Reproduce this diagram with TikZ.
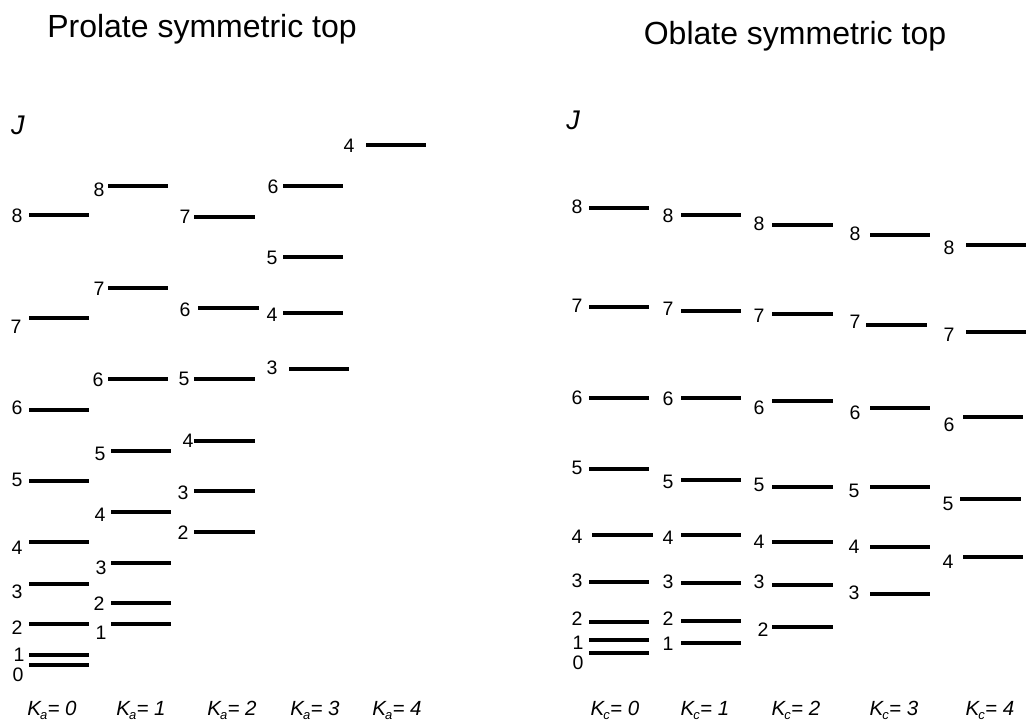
\documentclass[tikz,border=0pt]{standalone}
\usepackage{fontspec}
\setmainfont{Liberation Sans}
\begin{document}
\begin{tikzpicture}[x=1pt,y=-1pt,
  level/.style={line width=3.3pt},
  jlab/.style={font=\fontsize{19.5}{22}\selectfont, inner sep=0pt},
  title/.style={font=\fontsize{32}{36}\selectfont, anchor=base, inner sep=0pt},
  klab/.style={font=\fontsize{20.5}{22}\selectfont\itshape, anchor=base, inner sep=0pt},
  axis/.style={font=\fontsize{27}{30}\selectfont\itshape, anchor=base, inner sep=0pt}]
\useasboundingbox (0,0) rectangle (1026,722);
% #1 name, #2 x1, #3 x2, #4 y, #5 labx, #6 laby, #7 text
\newcommand{\enlevel}[7]{%
  \draw[level] (#2,#4) -- (#3,#4);
  \node[jlab] (#1) at (#5,#6) {#7};}
\newcommand{\kname}[2]{K\kern-1pt\raisebox{-4pt}{\fontsize{13}{13}\selectfont #1}\kern0.3pt= #2}

\node[title] (tp) at (202,38) {Prolate symmetric top};
\node[title] (to) at (795,45) {Oblate symmetric top};
\node[axis] (jp) at (18,135) {J};
\node[axis] (jo) at (573,130) {J};

% Prolate Ka=0
\enlevel{pa8}{29}{89}{215}{17}{216}{8}
\enlevel{pa7}{29}{89}{318}{16}{327}{7}
\enlevel{pa6}{29}{89}{410}{17}{408}{6}
\enlevel{pa5}{29}{89}{481}{17}{480}{5}
\enlevel{pa4}{29}{89}{542}{17}{548}{4}
\enlevel{pa3}{29}{89}{584}{17}{592}{3}
\enlevel{pa2}{29}{89}{624}{17}{628}{2}
\enlevel{pa1}{29}{89}{655}{19}{655}{1}
\enlevel{pa0}{29}{89}{665}{18}{675}{0}
% Ka=1
\enlevel{pb8}{108}{168}{186}{99}{190}{8}
\enlevel{pb7}{108}{168}{288}{99}{289}{7}
\enlevel{pb6}{108}{168}{379}{98}{380}{6}
\enlevel{pb5}{111}{171}{451}{100}{454}{5}
\enlevel{pb4}{111}{171}{512}{100}{515}{4}
\enlevel{pb3}{111}{171}{563}{101}{568}{3}
\enlevel{pb2}{111}{171}{603}{99}{604}{2}
\enlevel{pb1}{111}{171}{624}{101}{633}{1}
% Ka=2
\enlevel{pc7}{194}{255}{217}{185}{217}{7}
\enlevel{pc6}{198}{259}{308}{185}{310}{6}
\enlevel{pc5}{194}{255}{379}{184}{379}{5}
\enlevel{pc4}{194}{255}{441}{188}{441}{4}
\enlevel{pc3}{194}{255}{491}{183}{493}{3}
\enlevel{pc2}{194}{255}{532}{183}{533}{2}
% Ka=3
\enlevel{pd6}{283}{343}{186}{273}{187}{6}
\enlevel{pd5}{283}{343}{257}{272}{258}{5}
\enlevel{pd4}{283}{343}{313}{272}{315}{4}
\enlevel{pd3}{289}{349}{369}{272}{368}{3}
% Ka=4
\enlevel{pe4}{366}{426}{145}{349}{146}{4}

% Oblate Kc=0
\enlevel{oa8}{589}{649}{208}{577}{207}{8}
\enlevel{oa7}{589}{649}{307}{577}{306}{7}
\enlevel{oa6}{589}{649}{398}{577}{398}{6}
\enlevel{oa5}{589}{649}{469}{577}{468}{5}
\enlevel{oa4}{592}{653}{535}{577}{537}{4}
\enlevel{oa3}{589}{649}{582}{577}{581}{3}
\enlevel{oa2}{589}{649}{622}{577}{619}{2}
\enlevel{oa1}{589}{649}{640}{578}{643}{1}
\enlevel{oa0}{589}{649}{653}{578}{663}{0}
% Kc=1
\enlevel{ob8}{681}{741}{215}{668}{216}{8}
\enlevel{ob7}{681}{741}{311}{668}{309}{7}
\enlevel{ob6}{681}{741}{398}{668}{399}{6}
\enlevel{ob5}{681}{741}{480}{668}{482}{5}
\enlevel{ob4}{681}{741}{535}{668}{538}{4}
\enlevel{ob3}{681}{741}{583}{668}{582}{3}
\enlevel{ob2}{681}{741}{621}{668}{619}{2}
\enlevel{ob1}{681}{741}{643}{668}{644}{1}
% Kc=2
\enlevel{oc8}{772}{833}{225}{759}{224}{8}
\enlevel{oc7}{772}{833}{314}{759}{316}{7}
\enlevel{oc6}{772}{833}{401}{759}{408}{6}
\enlevel{oc5}{772}{833}{487}{759}{485}{5}
\enlevel{oc4}{772}{833}{542}{759}{542}{4}
\enlevel{oc3}{772}{833}{585}{759}{582}{3}
\enlevel{oc2}{772}{833}{627}{763}{630}{2}
% Kc=3
\enlevel{od8}{870}{930}{235}{855}{234}{8}
\enlevel{od7}{866}{927}{325}{855}{322}{7}
\enlevel{od6}{870}{930}{408}{855}{413}{6}
\enlevel{od5}{870}{930}{487}{854}{491}{5}
\enlevel{od4}{870}{930}{547}{854}{547}{4}
\enlevel{od3}{870}{930}{594}{854}{593}{3}
% Kc=4
\enlevel{oe8}{966}{1026}{245}{949}{248}{8}
\enlevel{oe7}{966}{1026}{332}{949}{335}{7}
\enlevel{oe6}{963}{1023}{417}{949}{425}{6}
\enlevel{oe5}{960}{1021}{499}{948}{504}{5}
\enlevel{oe4}{963}{1023}{557}{948}{562}{4}

% bottom labels
\node[klab] (ka0) at (52,715) {\kname{a}{0}};
\node[klab] (ka1) at (141,715) {\kname{a}{1}};
\node[klab] (ka2) at (232,715) {\kname{a}{2}};
\node[klab] (ka3) at (315,715) {\kname{a}{3}};
\node[klab] (ka4) at (397,715) {\kname{a}{4}};
\node[klab] (kc0) at (615,715) {\kname{c}{0}};
\node[klab] (kc1) at (705,715) {\kname{c}{1}};
\node[klab] (kc2) at (796,715) {\kname{c}{2}};
\node[klab] (kc3) at (894,715) {\kname{c}{3}};
\node[klab] (kc4) at (990,715) {\kname{c}{4}};
\end{tikzpicture}
\end{document}
